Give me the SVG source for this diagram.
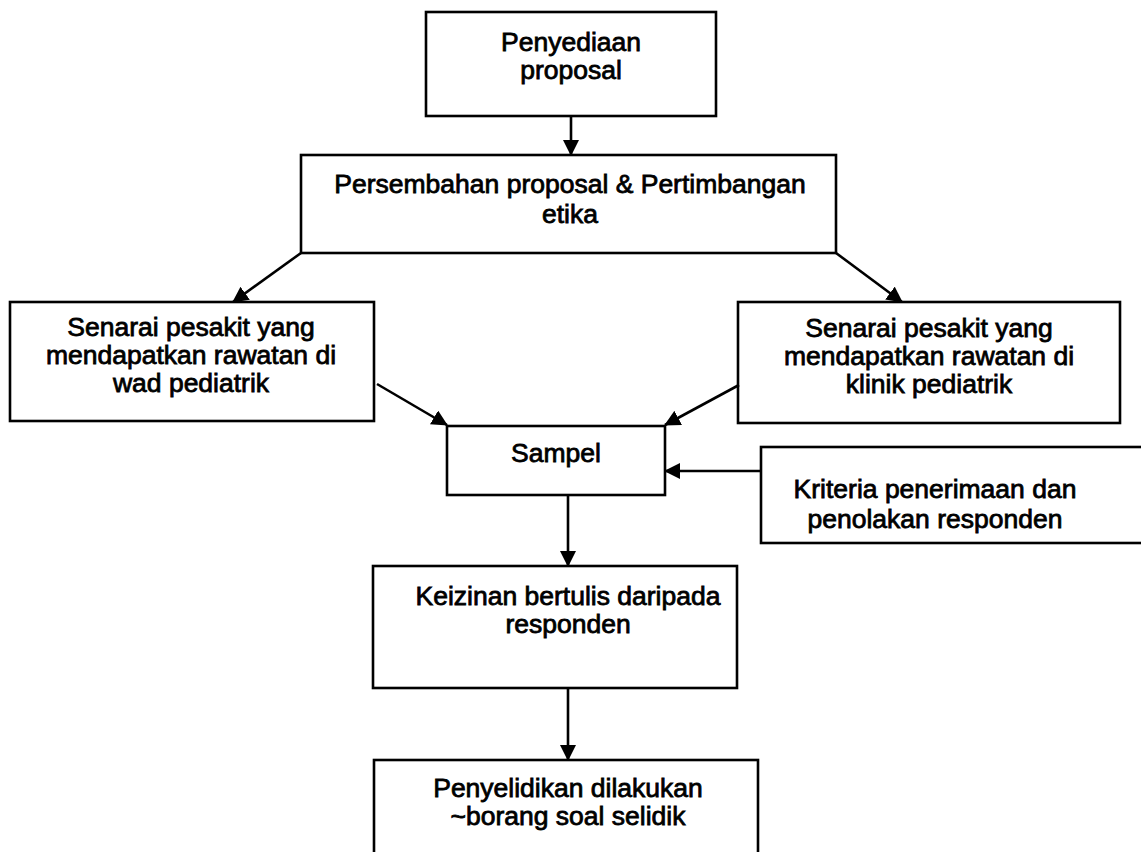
<svg xmlns="http://www.w3.org/2000/svg" width="1141" height="852" viewBox="0 0 1141 852">
<style>
.box{fill:#fff;stroke:#000;stroke-width:2.6}
.t{font-family:"Liberation Sans",Arial,sans-serif;font-size:26.5px;fill:#000;stroke:#000;stroke-width:0.8;text-anchor:middle}
.c{stroke:#000;stroke-width:2.6;fill:none;marker-end:url(#ah)}
</style>
<defs>
<marker id="ah" markerUnits="userSpaceOnUse" markerWidth="16" markerHeight="16" refX="15" refY="8" orient="auto">
<path d="M0,0 L16,8 L0,16 Z" fill="#000"/>
</marker>
</defs>
<rect width="1141" height="852" fill="#fff"/>
<g id="n1"><rect class="box" x="426" y="12" width="290" height="104"/>
<text class="t" x="571" y="51">Penyediaan</text><text class="t" x="571" y="79">proposal</text></g>
<g id="n2"><rect class="box" x="301" y="155" width="535" height="98"/>
<text class="t" x="570" y="193">Persembahan proposal &amp; Pertimbangan</text><text class="t" x="570" y="223">etika</text></g>
<g id="n3"><rect class="box" x="10" y="302" width="364" height="119"/>
<text class="t" x="191" y="336">Senarai pesakit yang</text><text class="t" x="191" y="364">mendapatkan rawatan di</text><text class="t" x="191" y="392">wad pediatrik</text></g>
<g id="n4"><rect class="box" x="738" y="302" width="382" height="121"/>
<text class="t" x="929" y="337">Senarai pesakit yang</text><text class="t" x="929" y="365">mendapatkan rawatan di</text><text class="t" x="929" y="393">klinik pediatrik</text></g>
<g id="n5"><rect class="box" x="447" y="426" width="218" height="69"/>
<text class="t" x="556" y="462">Sampel</text></g>
<g id="n6"><rect class="box" x="761" y="447" width="390" height="96"/>
<text class="t" x="935" y="498">Kriteria penerimaan dan</text><text class="t" x="935" y="528">penolakan responden</text></g>
<g id="n7"><rect class="box" x="373" y="566" width="364" height="122"/>
<text class="t" x="568" y="605">Keizinan bertulis daripada</text><text class="t" x="568" y="633">responden</text></g>
<g id="n8"><rect class="box" x="374" y="760" width="384" height="110"/>
<text class="t" x="568" y="797">Penyelidikan dilakukan</text><text class="t" x="568" y="825">~borang soal selidik</text></g>
<g id="connectors">
<line class="c" x1="571" y1="116" x2="571" y2="155"/>
<line class="c" x1="301" y1="253" x2="233" y2="302"/>
<line class="c" x1="836" y1="253" x2="902" y2="302"/>
<line class="c" x1="377" y1="384" x2="447" y2="425"/>
<line class="c" x1="739" y1="385" x2="665" y2="425"/>
<line class="c" x1="761" y1="471" x2="665" y2="471"/>
<line class="c" x1="568" y1="495" x2="568" y2="566"/>
<line class="c" x1="568" y1="688" x2="568" y2="760"/>
</g>
</svg>
